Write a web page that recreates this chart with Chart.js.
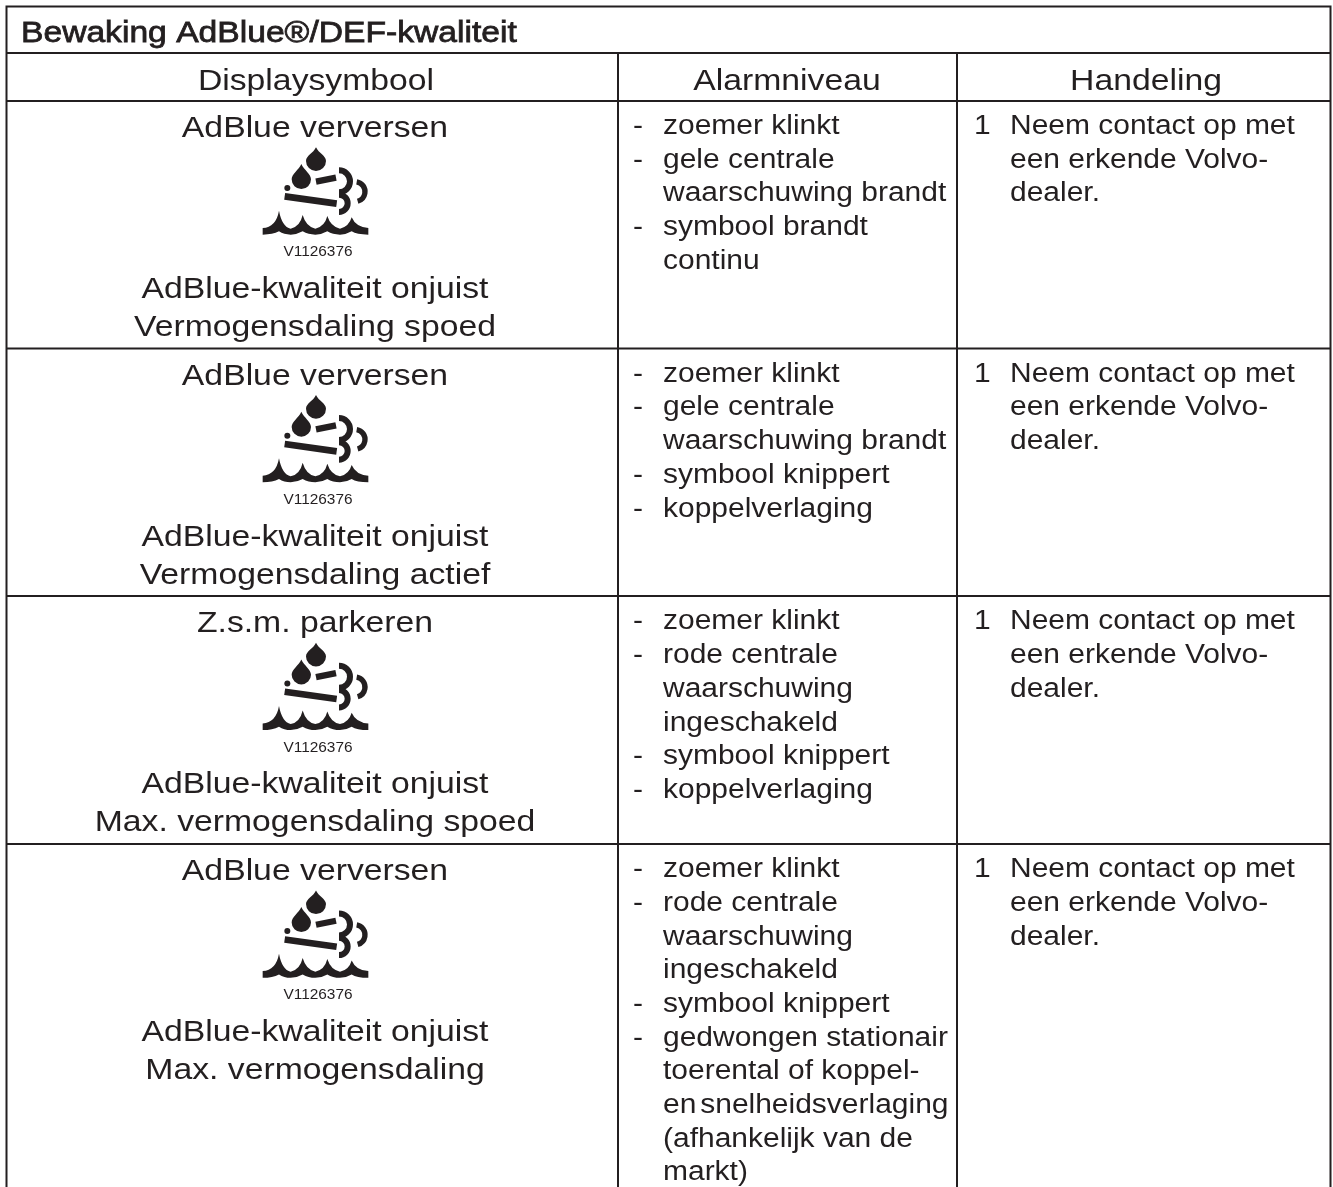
<!DOCTYPE html>
<html>
<head>
<meta charset="utf-8">
<title>Bewaking AdBlue/DEF-kwaliteit</title>
<script src="https://cdn.jsdelivr.net/npm/chart.js@4"></script>
<style>
  html, body { margin: 0; padding: 0; background: #fff; overflow: hidden; }
  canvas { display: block; }
</style>
</head>
<body>
<canvas id="chart" width="1333" height="1187"></canvas>
<script>
const tableTitle = "Bewaking AdBlue®/DEF-kwaliteit";
const columnHeaders = ["Displaysymbool", "Alarmniveau", "Handeling"];
const symbolCode = "V1126376";

const displayTop = ["AdBlue verversen", "AdBlue verversen", "Z.s.m. parkeren", "AdBlue verversen"];
const displayLine1 = ["AdBlue-kwaliteit onjuist", "AdBlue-kwaliteit onjuist", "AdBlue-kwaliteit onjuist", "AdBlue-kwaliteit onjuist"];
const displayLine2 = ["Vermogensdaling spoed", "Vermogensdaling actief", "Max. vermogensdaling spoed", "Max. vermogensdaling"];

// "- " marks the start of a list item, the rest are continuation lines
const alarmRow1 = ["- zoemer klinkt", "- gele centrale", "waarschuwing brandt", "- symbool brandt", "continu"];
const alarmRow2 = ["- zoemer klinkt", "- gele centrale", "waarschuwing brandt", "- symbool knippert", "- koppelverlaging"];
const alarmRow3 = ["- zoemer klinkt", "- rode centrale", "waarschuwing", "ingeschakeld", "- symbool knippert", "- koppelverlaging"];
const alarmRow4 = ["- zoemer klinkt", "- rode centrale", "waarschuwing", "ingeschakeld", "- symbool knippert",
  "- gedwongen stationair", "toerental of koppel-", "en snelheidsverlaging", "(afhankelijk van de", "markt)"];
const alarmRows = [alarmRow1, alarmRow2, alarmRow3, alarmRow4];

const actionNumber = "1";
const actionLines = ["Neem contact op met", "een erkende Volvo-", "dealer."];

const INK = "#231f20";
const FONT = '"Liberation Sans", Arial, sans-serif';
// the source page is a bit wider than it is tall, so the type is too
const TEXT_STRETCH = 1.11;

function drawIcon(ctx, x0, y0) {
    // coordinates are in a 3x box, same as the zoomed crop of the symbol
    ctx.save();
    ctx.translate(x0, y0);
    ctx.scale(1 / 3, 1 / 3);
    ctx.fillStyle = INK;
    ctx.strokeStyle = INK;

    function drop(cx, cy, r, tip) {
        ctx.beginPath();
        ctx.moveTo(cx, tip);
        ctx.bezierCurveTo(cx + 8, tip + 18, cx + r, cy - 16, cx + r, cy);
        ctx.arc(cx, cy, r, 0, Math.PI);
        ctx.bezierCurveTo(cx - r, cy - 16, cx - 8, tip + 18, cx, tip);
        ctx.fill();
    }
    drop(228, 63, 30, 22);
    drop(184, 118, 29, 72);

    function bar(x1, y1, x2, y2, w) {
        ctx.lineWidth = w;
        ctx.beginPath();
        ctx.moveTo(x1, y1);
        ctx.lineTo(x2, y2);
        ctx.stroke();
    }
    bar(228, 125, 288, 113, 19);
    bar(134, 169, 290, 191, 20);
    ctx.beginPath();
    ctx.arc(142, 144, 9, 0, Math.PI * 2);
    ctx.fill();

    ctx.lineWidth = 18;
    ctx.beginPath();
    ctx.arc(297, 124, 33, -Math.PI / 2, Math.PI / 2);
    ctx.stroke();
    ctx.beginPath();
    ctx.arc(297, 190, 26, -Math.PI / 2, Math.PI / 2);
    ctx.stroke();
    ctx.lineWidth = 16;
    ctx.beginPath();
    ctx.arc(345, 155, 30, -1.4, 1.3);
    ctx.stroke();

    // water line
    ctx.beginPath();
    ctx.moveTo(68, 264);
    ctx.quadraticCurveTo(108, 262, 117, 212);
    ctx.quadraticCurveTo(126, 260, 152, 266);
    ctx.quadraticCurveTo(180, 260, 188, 225);
    ctx.quadraticCurveTo(198, 260, 226, 266);
    ctx.quadraticCurveTo(254, 260, 262, 228);
    ctx.quadraticCurveTo(272, 260, 300, 266);
    ctx.quadraticCurveTo(327, 260, 335, 232);
    ctx.quadraticCurveTo(348, 262, 385, 264);
    ctx.lineTo(385, 284);
    ctx.quadraticCurveTo(350, 284, 335, 274);
    ctx.quadraticCurveTo(318, 284, 300, 284);
    ctx.quadraticCurveTo(278, 284, 262, 274);
    ctx.quadraticCurveTo(245, 284, 226, 284);
    ctx.quadraticCurveTo(205, 284, 188, 274);
    ctx.quadraticCurveTo(170, 284, 152, 284);
    ctx.quadraticCurveTo(132, 284, 117, 274);
    ctx.quadraticCurveTo(98, 284, 68, 284);
    ctx.closePath();
    ctx.fill();
    ctx.restore();
}

function drawText(ctx, text, x, y, size, align, outline, wordGap) {
    ctx.save();
    ctx.translate(x, y);
    ctx.scale(TEXT_STRETCH, 1);
    ctx.font = `${size}px ${FONT}`;
    ctx.textAlign = align;
    if (wordGap) ctx.wordSpacing = wordGap;
    ctx.fillText(text, 0, 0);
    if (outline) {
        ctx.lineWidth = outline;
        ctx.strokeText(text, 0, 0);
    }
    ctx.restore();
}

const tablePlugin = {
    id: "adblueTable",
    afterDraw(chart) {
        const ctx = chart.ctx;
        const px = (v) => chart.scales.x.getPixelForValue(v);
        const py = (v) => chart.scales.y.getPixelForValue(v);

        // cell layout
        const left = 6.5, right = 1330.5, top = 6.5, bottom = 1187;
        const colA = 618, colB = 957;
        const titleBottom = 53, headerBottom = 101;
        const rowPitch = 247.7;
        const rowLines = [348.5, 596, 844];
        const bigSize = 30.4, listSize = 27, codeSize = 13.9;
        const linePitch = 33.7;

        ctx.save();
        ctx.strokeStyle = INK;
        ctx.lineWidth = 2;
        ctx.beginPath();
        ctx.moveTo(px(left), py(bottom));
        ctx.lineTo(px(left), py(top));
        ctx.lineTo(px(right), py(top));
        ctx.lineTo(px(right), py(bottom));
        ctx.moveTo(px(left), py(titleBottom));
        ctx.lineTo(px(right), py(titleBottom));
        ctx.moveTo(px(left), py(headerBottom));
        ctx.lineTo(px(right), py(headerBottom));
        rowLines.forEach((y) => {
            ctx.moveTo(px(left), py(y));
            ctx.lineTo(px(right), py(y));
        });
        [colA, colB].forEach((x) => {
            ctx.moveTo(px(x), py(titleBottom));
            ctx.lineTo(px(x), py(bottom));
        });
        ctx.stroke();

        ctx.fillStyle = INK;
        ctx.textBaseline = "alphabetic";

        // title, regular face with a thin outline like the original
        drawText(ctx, tableTitle, px(21), py(41.7), 30.3, "left", 0.8);

        drawText(ctx, columnHeaders[0], px(316), py(89.5), bigSize, "center");
        drawText(ctx, columnHeaders[1], px(787), py(89.5), bigSize, "center");
        drawText(ctx, columnHeaders[2], px(1146), py(89.5), bigSize, "center");

        for (let i = 0; i < 4; i++) {
            const off = rowPitch * i;
            drawText(ctx, displayTop[i], px(315), py(137 + off), bigSize, "center");
            drawText(ctx, displayLine1[i], px(315), py(298 + off), bigSize, "center");
            drawText(ctx, displayLine2[i], px(315), py(336 + off), bigSize, "center");

            drawIcon(ctx, px(240), py(140 + off));
            drawText(ctx, symbolCode, px(318), py(256.3 + off), codeSize, "center");

            alarmRows[i].forEach((line, n) => {
                const y = py(134 + off + n * linePitch);
                if (line.startsWith("- ")) {
                    drawText(ctx, "-", px(633), y, listSize, "left");
                    drawText(ctx, line.slice(2), px(663), y, listSize, "left");
                } else if (line === "en snelheidsverlaging") {
                    // the source squeezes this line to fit the cell
                    drawText(ctx, line, px(663), y, listSize, "left", 0, "-4px");
                } else {
                    drawText(ctx, line, px(663), y, listSize, "left");
                }
            });
            drawText(ctx, actionNumber, px(974), py(134 + off), listSize, "left");
            actionLines.forEach((line, n) => {
                drawText(ctx, line, px(1010), py(134 + off + n * linePitch), listSize, "left");
            });
        }
        ctx.restore();
    },
};

new Chart(document.getElementById("chart").getContext("2d"), {
    type: "scatter",
    data: { datasets: [{ data: [] }] },
    options: {
        responsive: false,
        animation: false,
        layout: { padding: 0 },
        plugins: { legend: { display: false }, tooltip: { enabled: false } },
        scales: {
            x: { type: "linear", min: 0, max: 1333, display: false },
            y: { type: "linear", min: 0, max: 1187, reverse: true, display: false },
        },
    },
    plugins: [tablePlugin],
});
</script>
</body>
</html>
